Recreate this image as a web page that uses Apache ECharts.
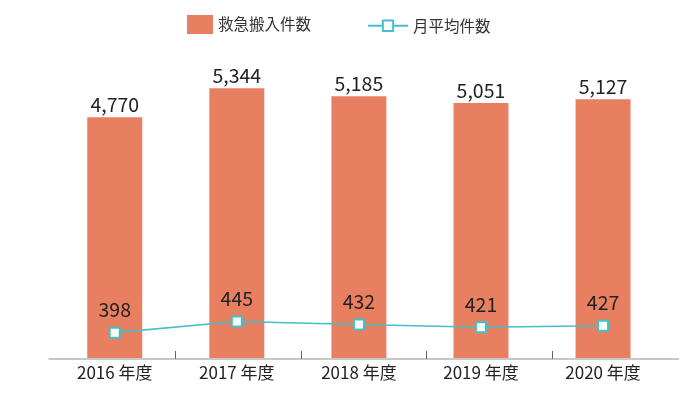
<!DOCTYPE html>
<html>
<head>
<meta charset="utf-8">
<script src="https://cdn.jsdelivr.net/npm/echarts@6/dist/echarts.min.js"></script>
<style>html,body{margin:0;padding:0;background:#fff}#c{width:700px;height:393px}</style>
</head>
<body>
<div id="c"></div>
<script>
const categories = ['2016 年度', '2017 年度', '2018 年度', '2019 年度', '2020 年度'];
const emergencyCounts = [4770, 5344, 5185, 5051, 5127];
const monthlyAverages = [398, 445, 432, 421, 427];
const barName = '救急搬入件数';
const lineName = '月平均件数';

const FONT = '"Noto Sans CJK JP", "Noto Sans", sans-serif';
const chart = echarts.init(document.getElementById('c'));
chart.setOption({
  animation: false,
  backgroundColor: '#fff',
  textStyle: { fontFamily: FONT },
  legend: [
    { data: [{ name: barName, icon: 'rect' }], left: 187, top: 15, padding: 0, itemWidth: 26, itemHeight: 19, itemGap: 6,
      textStyle: { fontSize: 15.5, color: '#333', fontFamily: FONT } },
    { data: [lineName], left: 367, top: 18, padding: 0, itemWidth: 40, itemHeight: 13,
      textStyle: { fontSize: 15.5, color: '#333', fontFamily: FONT } }
  ],
  grid: [
    { left: 53.7, right: 35.9, top: 55, bottom: 34 },
    { left: 49.3, right: 21.7, top: 55, bottom: 34 }
  ],
  xAxis: [
    { type: 'category', gridIndex: 0, data: categories,
      axisLine: { show: false }, axisTick: { show: false },
      axisLabel: { fontSize: 17, color: '#222', margin: 5, fontFamily: FONT } },
    { type: 'value', gridIndex: 1, min: 0, max: 5, interval: 1, z: 5,
      axisLine: { show: true, lineStyle: { color: '#c8c8c8', width: 2 } },
      axisTick: { show: true, inside: true, length: 8, customValues: [1, 2, 3, 4],
        lineStyle: { color: '#666', width: 1 } },
      axisLabel: { show: false }, splitLine: { show: false } }
  ],
  yAxis: [
    { type: 'value', gridIndex: 0, min: 0, max: 6000, show: false, splitLine: { show: false } },
    { type: 'value', gridIndex: 0, min: 287, max: 1567, show: false, splitLine: { show: false } },
    { type: 'value', gridIndex: 1, min: 0, max: 1, show: false, splitLine: { show: false } }
  ],
  series: [
    { name: barName, type: 'bar', xAxisIndex: 0, yAxisIndex: 0, data: emergencyCounts,
      barWidth: 55, itemStyle: { color: '#E97F61' },
      label: { show: true, position: 'top', distance: 3, fontSize: 19.5, color: '#222', fontFamily: FONT,
        formatter: p => echarts.format.addCommas(p.value) } },
    { name: lineName, type: 'line', xAxisIndex: 0, yAxisIndex: 1, data: monthlyAverages, z: 4,
      symbol: 'rect', symbolSize: 10,
      lineStyle: { color: '#45C0C9', width: 1.6 },
      itemStyle: { color: '#fff', borderColor: '#45C0C9', borderWidth: 2 },
      label: { show: true, position: 'top', distance: 7, fontSize: 19.5, color: '#222', fontFamily: FONT } }
  ]
});
</script>
</body>
</html>
